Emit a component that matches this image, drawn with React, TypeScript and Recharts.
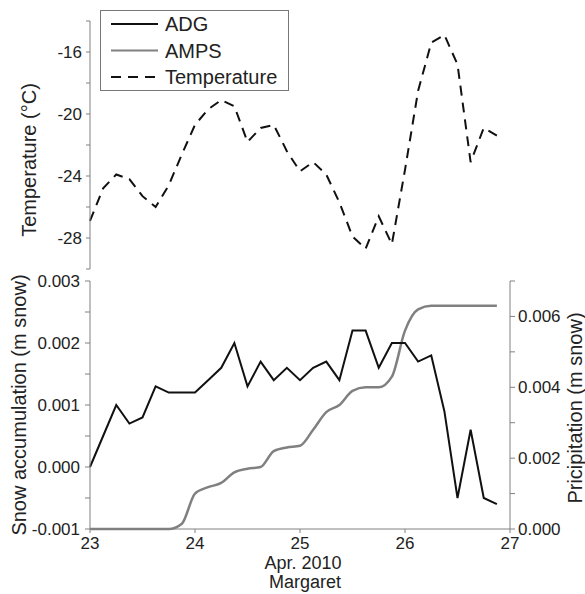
import { LineChart, Line, XAxis, YAxis } from 'recharts'

// time axis, 3-hourly, Apr. 2010 (day of month)
const days = [
  23, 23.125, 23.25, 23.375, 23.5, 23.625, 23.75, 23.875,
  24, 24.125, 24.25, 24.375, 24.5, 24.625, 24.75, 24.875,
  25, 25.125, 25.25, 25.375, 25.5, 25.625, 25.75, 25.875,
  26, 26.125, 26.25, 26.375, 26.5, 26.625, 26.75, 26.875,
]

// Temperature (°C)
const temperature = [
  -26.9, -24.8, -23.9, -24.2, -25.3, -26.0, -24.6, -22.6,
  -20.7, -19.7, -19.1, -19.5, -21.8, -20.9, -20.7, -22.4,
  -23.7, -23.1, -23.9, -25.7, -27.9, -28.7, -26.6, -28.4,
  -23.6, -18.5, -15.4, -14.9, -16.8, -23.1, -20.9, -21.4,
]

// ADG snow accumulation (m snow)
const adg = [
  0, 0.0005, 0.001, 0.0007, 0.0008, 0.0013, 0.0012, 0.0012,
  0.0012, 0.0014, 0.0016, 0.002, 0.0013, 0.0017, 0.0014, 0.0016,
  0.0014, 0.0016, 0.0017, 0.0014, 0.0022, 0.0022, 0.0016, 0.002,
  0.002, 0.0017, 0.0018, 0.0009, -0.0005, 0.0006, -0.0005, -0.0006,
]

// AMPS precipitation (m snow)
const amps = [
  0, 0, 0, 0, 0, 0, 0, 0.00015,
  0.001, 0.00118, 0.0013, 0.0016, 0.0017, 0.00175, 0.0022, 0.0023,
  0.00235, 0.0028, 0.0033, 0.0035, 0.0039, 0.004, 0.004, 0.0043,
  0.0056, 0.0062, 0.0063, 0.0063, 0.0063, 0.0063, 0.0063, 0.0063,
]

const dayTicks = [23, 24, 25, 26, 27]
const tempTicks = [-30, -28, -26, -24, -22, -20, -18, -16, -14]
const snowTicks = [-0.001, -0.0005, 0, 0.0005, 0.001, 0.0015, 0.002, 0.0025, 0.003]
const precipTicks = [0, 0.001, 0.002, 0.003, 0.004, 0.005, 0.006, 0.007]

const legendItems = [
  { name: 'ADG', color: '#111', dash: undefined as string | undefined },
  { name: 'AMPS', color: '#808080', dash: undefined as string | undefined },
  { name: 'Temperature', color: '#111', dash: '10 7' },
]

const FONT = '"Liberation Sans", Arial, sans-serif'
const AXIS = '#808080'
const TXT = '#222'

const tempData = days.map((d, i) => ({ day: d, temp: temperature[i] }))
const snowData = days.map((d, i) => ({ day: d, adg: adg[i], amps: amps[i] }))

const isMult = (v: number, step: number) => Math.abs(v / step - Math.round(v / step)) < 1e-6

// rotated axis title
const vLabel = (text: string, cx: number, cy: number) => () => (
  <text
    x={cx}
    y={cy}
    transform={`rotate(-90 ${cx} ${cy})`}
    textAnchor="middle"
    dominantBaseline="central"
    fontSize={20}
    fill={TXT}
    fontFamily={FONT}
  >
    {text}
  </text>
)

const xLabel = () => (
  <g fontFamily={FONT} fontSize={18} fill={TXT} textAnchor="middle">
    <text x={303} y={298.5}>Apr. 2010</text>
    <text x={305} y={318}>Margaret</text>
  </g>
)

function LegendBox() {
  return (
    <div
      style={{
        position: 'absolute',
        left: 100,
        top: 10,
        width: 187,
        height: 79,
        border: '1px solid #777',
        background: '#fff',
      }}
    >
      <svg width={187} height={79} style={{ display: 'block' }}>
        {legendItems.map((it, i) => {
          const y = 13 + i * 26.5
          return (
            <g key={it.name}>
              <line
                x1={10}
                x2={57}
                y1={y}
                y2={y}
                stroke={it.color}
                strokeWidth={2}
                strokeDasharray={it.dash}
              />
              <text x={64} y={y + 7} fontSize={20} fill={TXT} fontFamily={FONT}>
                {it.name}
              </text>
            </g>
          )
        })}
      </svg>
    </div>
  )
}

const tickStyle = { fill: TXT, fontSize: 17, fontFamily: FONT }

export default function App() {
  return (
    <div
      style={{
        position: 'absolute',
        left: 0,
        top: 0,
        width: 585,
        height: 594,
        background: '#fff',
        overflow: 'hidden',
      }}
    >
      <div style={{ position: 'absolute', left: 0, top: 0 }}>
        <LineChart width={585} height={272} data={tempData} margin={{ top: 21, right: 75, left: 0, bottom: 3 }}>
          <XAxis dataKey="day" type="number" domain={[23, 27]} hide />
          <YAxis
            domain={[-30, -14]}
            ticks={tempTicks}
            interval={0}
            width={90}
            tickSize={4}
            tickMargin={4}
            tick={tickStyle}
            stroke={AXIS}
            tickFormatter={(v: number) => (isMult(v, 4) ? String(v) : '')}
            label={vLabel('Temperature (°C)', 29, 160)}
          />
          <Line
            dataKey="temp"
            stroke="#111"
            strokeWidth={2}
            strokeDasharray="10 7"
            dot={false}
            isAnimationActive={false}
          />
        </LineChart>
      </div>

      <div style={{ position: 'absolute', left: 0, top: 270 }}>
        <LineChart width={585} height={324} data={snowData} margin={{ top: 11, right: 0, left: 0, bottom: 0 }}>
          <XAxis
            dataKey="day"
            type="number"
            domain={[23, 27]}
            ticks={dayTicks}
            interval={0}
            height={65}
            tickSize={4}
            tickMargin={4}
            tick={tickStyle}
            stroke={AXIS}
            label={xLabel}
          />
          <YAxis
            yAxisId="left"
            domain={[-0.001, 0.003]}
            ticks={snowTicks}
            interval={0}
            width={90}
            tickSize={5}
            tickMargin={5}
            tick={tickStyle}
            stroke={AXIS}
            tickFormatter={(v: number) => (isMult(v, 0.001) ? v.toFixed(3) : '')}
            label={vLabel('Snow accumulation (m snow)', 19, 135)}
          />
          <YAxis
            yAxisId="right"
            orientation="right"
            domain={[0, 0.007]}
            ticks={precipTicks}
            interval={0}
            width={75}
            tickSize={5}
            tickMargin={3}
            tick={tickStyle}
            stroke={AXIS}
            tickFormatter={(v: number) => (isMult(v, 0.002) ? v.toFixed(3) : '')}
            label={vLabel('Pricipitation (m snow)', 575, 138)}
          />
          <Line
            yAxisId="right"
            dataKey="amps"
            type="monotone"
            stroke="#808080"
            strokeWidth={2.5}
            dot={false}
            isAnimationActive={false}
          />
          <Line
            yAxisId="left"
            dataKey="adg"
            stroke="#111"
            strokeWidth={2}
            dot={false}
            isAnimationActive={false}
          />
        </LineChart>
      </div>

      <LegendBox />
    </div>
  )
}
